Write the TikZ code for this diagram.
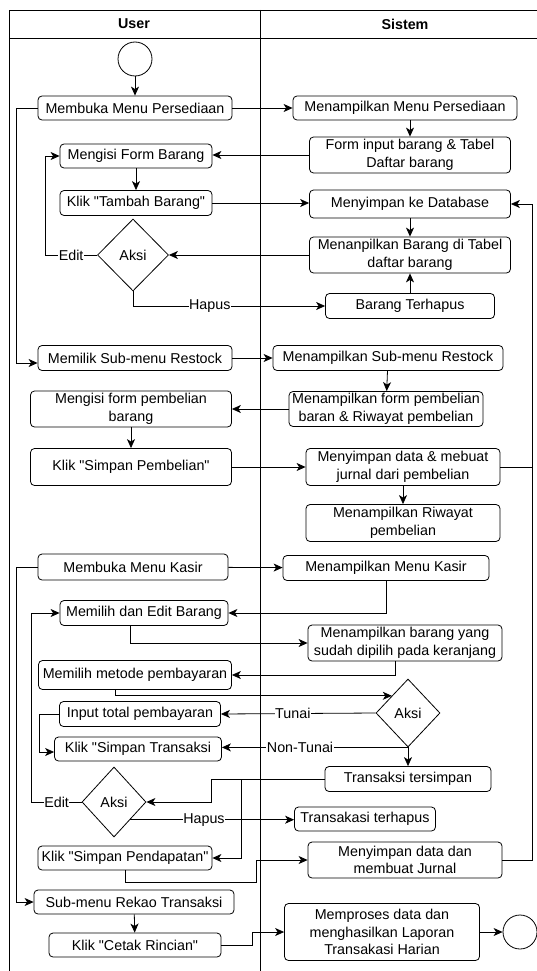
\documentclass[tikz,border=0pt]{standalone}
\usepackage{fontspec}
\setmainfont{Liberation Sans}[Ligatures=TeXOff]
\usetikzlibrary{shapes.geometric,arrows.meta}
\newcommand\actfont{\fontsize{14.3}{17.5}\selectfont}

\begin{document}
\begin{tikzpicture}[x=1pt,y=-1pt,line width=0.8pt,
    every node/.style={font=\actfont},
    act/.style={draw,rounded corners=4pt,align=center,inner sep=1pt},
    aksi/.style={draw,diamond,inner sep=0pt},
    lbl/.style={fill=white,inner sep=0.5pt},
    arr/.style={-{Stealth[length=9pt,width=8pt,inset=2.5pt]}}]
    \useasboundingbox (0,0) rectangle (537,971);
    % swimlanes
    \draw (9,985) -- (9,10) -- (550,10) -- (550,985);
    \draw (9,38) -- (550,38) (260,10) -- (260,985);
    \node[font=\actfont\bfseries] (hUser) at (134,24) {User};
    \node[font=\actfont\bfseries] (hSistem) at (405,24) {Sistem};
    % user lane
    \node[draw,circle,minimum size=34pt,inner sep=0pt] (mulai) at (135,59) {};
    \node[act,minimum width=194pt,minimum height=24pt] (bukaPers) at (135,108) {Membuka Menu Persediaan};
    \node[act,minimum width=152pt,minimum height=24pt] (isiForm) at (136,156) {Mengisi Form Barang};
    \node[act,minimum width=152pt,minimum height=25pt] (tambah) at (136,203) {Klik "Tambah Barang"};
    \node[aksi,minimum width=71pt,minimum height=72pt] (aksiBrg) at (133,255) {Aksi};
    \node[act,minimum width=194pt,minimum height=25pt] (subRestock) at (135,358) {Memilik Sub-menu Restock};
    \node[act,minimum width=201pt,minimum height=36pt] (isiBeli) at (131,409) {Mengisi form pembelian\\barang};
    \node[act,minimum width=201pt,minimum height=37pt] (simpanBeli) at (131,467) {Klik "Simpan Pembelian"};
    \node[act,minimum width=190pt,minimum height=26pt] (bukaKasir) at (133,567) {Membuka Menu Kasir};
    \node[act,minimum width=168pt,minimum height=25pt] (pilihBrg) at (144,613) {Memilih dan Edit Barang};
    \node[act,minimum width=193pt,minimum height=29pt] (metode) at (135,675) {Memilih metode pembayaran};
    \node[act,minimum width=161pt,minimum height=25pt] (inputTotal) at (140,714) {Input total pembayaran};
    \node[act,minimum width=167pt,minimum height=24pt] (simpanTrx) at (138,749) {Klik "Simpan Transaksi};
    \node[aksi,minimum width=64pt,minimum height=70pt] (aksiTrx) at (114,802) {Aksi};
    \node[act,minimum width=174pt,minimum height=24pt] (simpanPend) at (125,858) {Klik "Simpan Pendapatan"};
    \node[act,minimum width=200pt,minimum height=24pt] (rekap) at (134,902) {Sub-menu Rekao Transaksi};
    \node[act,minimum width=172pt,minimum height=24pt] (cetak) at (135,945) {Klik "Cetak Rincian"};
    % sistem lane
    \node[act,minimum width=224pt,minimum height=24pt] (tampilPers) at (405,108) {Menampilkan Menu Persediaan};
    \node[act,minimum width=201pt,minimum height=36pt] (formInput) at (410,155) {Form input barang \& Tabel\\Daftar barang};
    \node[act,minimum width=201pt,minimum height=28pt] (simpanDb) at (410,204) {Menyimpan ke Database};
    \node[act,minimum width=201pt,minimum height=36pt] (tampilBrg) at (410,255) {Menanpilkan Barang di Tabel\\daftar barang};
    \node[act,minimum width=169pt,minimum height=25pt] (hapusBrg) at (410,306) {Barang Terhapus};
    \node[act,minimum width=230pt,minimum height=25pt] (tampilRestock) at (388,358) {Menampilkan Sub-menu Restock};
    \node[act,minimum width=194pt,minimum height=35pt] (tampilBeli) at (386,409) {Menampilkan form pembelian\\baran \& Riwayat pembelian};
    \node[act,minimum width=194pt,minimum height=37pt] (jurnalBeli) at (403,467) {Menyimpan data \& mebuat\\jurnal dari pembelian};
    \node[act,minimum width=194pt,minimum height=37pt] (riwayat) at (403,523) {Menampilkan Riwayat\\pembelian};
    \node[act,minimum width=206pt,minimum height=25pt] (tampilKasir) at (386,568) {Menampilkan Menu Kasir};
    \node[act,minimum width=194pt,minimum height=36pt] (keranjang) at (405,643) {Menampilkan barang yang\\sudah dipilih pada keranjang};
    \node[aksi,minimum width=64pt,minimum height=68pt] (aksiBayar) at (408,713) {Aksi};
    \node[act,minimum width=166pt,minimum height=25pt] (trxSimpan) at (408,779) {Transaksi tersimpan};
    \node[act,minimum width=141pt,minimum height=24pt] (trxHapus) at (365,819) {Transakasi terhapus};
    \node[act,minimum width=194pt,minimum height=36pt] (simpanJurnal) at (405,860) {Menyimpan data dan\\membuat Jurnal};
    \node[act,minimum width=195pt,minimum height=57pt] (proses) at (382,932) {Memproses data dan\\menghasilkan Laporan\\Transakasi Harian};
    \node[draw,circle,minimum size=34pt,inner sep=0pt] (selesai) at (520,932) {};
    \coordinate (kanan) at (532,0);
    % persediaan
    \draw[arr] (mulai) -- (bukaPers);
    \draw[arr] (bukaPers) -- (tampilPers);
    \draw[arr] (tampilPers.south -| formInput.north) -- (formInput.north);
    \draw[arr] (formInput.west) -- (formInput.west -| isiForm.east);
    \draw[arr] (isiForm) -- (tambah);
    \draw[arr] (tambah.east) -- (tambah.east -| simpanDb.west);
    \draw[arr] (simpanDb) -- (tampilBrg);
    \draw[arr] (tampilBrg.west) -- (aksiBrg.east);
    \draw[arr] (aksiBrg.west) -- node[lbl]{Edit} ++(-52,0) |- (isiForm.west);
    \draw[arr] (aksiBrg.south) |- node[lbl,pos=0.7]{Hapus} (hapusBrg.west);
    \draw[arr] (hapusBrg) -- (tampilBrg);
    % restock
    \draw[arr] (bukaPers.west) -- ++(-21,0) |- ([yshift=-5pt]subRestock.west);
    \draw[arr] (subRestock) -- (tampilRestock);
    \draw[arr] (tampilRestock) -- (tampilBeli);
    \draw[arr] (tampilBeli) -- (isiBeli);
    \draw[arr] (isiBeli) -- (simpanBeli);
    \draw[arr] (simpanBeli) -- (jurnalBeli);
    \draw[arr] (jurnalBeli) -- (riwayat);
    \draw (jurnalBeli.east) -- (jurnalBeli.east -| kanan);
    \draw[arr] (simpanJurnal.east) -| (kanan |- simpanDb.east) -- (simpanDb.east);
    % kasir
    \draw[arr] (bukaKasir) -- (tampilKasir);
    \draw[arr] (tampilKasir.south) |- (pilihBrg.east);
    \draw[arr] (bukaKasir.west) -- ++(-21,0) |- (rekap.west);
    \draw[arr] ([xshift=-14pt]pilihBrg.south) |- (keranjang.west);
    \draw[arr] ([xshift=-10pt]keranjang.south) |- (metode.east);
    \draw[arr] ([xshift=-20pt]metode.south) |- (aksiBayar.north west);
    \draw[arr] (aksiBayar.west) -- node[lbl,pos=0.535]{Tunai} (inputTotal.east);
    \draw[arr] (inputTotal.west) -- ++(-20,0) |- ([yshift=-3pt]simpanTrx.west);
    \draw[arr] (aksiBayar.south) -- (trxSimpan.north);
    \draw[arr] (aksiBayar.south) -- node[lbl,pos=0.58]{Non-Tunai} (aksiBayar.south -| simpanTrx.east);
    \draw[arr] (trxSimpan.west) -- ++(-113,0) |- (aksiTrx.east);
    \draw[arr] (trxSimpan.west) -- ++(-83,0) |- (simpanPend.east);
    \draw[arr] (aksiTrx.west) -- node[lbl]{Edit} ++(-50,0) |- (pilihBrg.west);
    \draw[arr] (aksiTrx.south east) -- node[lbl,pos=0.45]{Hapus} (aksiTrx.south east -| trxHapus.west);
    \draw[arr] (simpanPend.south) -- ++(0,12) -| ([xshift=-51pt]simpanJurnal.west) -- (simpanJurnal.west);
    \draw[arr] (rekap) -- (cetak);
    \draw[arr] (cetak.east) -- ++(31,0) |- (proses.west);
    \draw[arr] (proses) -- (selesai);
\end{tikzpicture}
\end{document}
